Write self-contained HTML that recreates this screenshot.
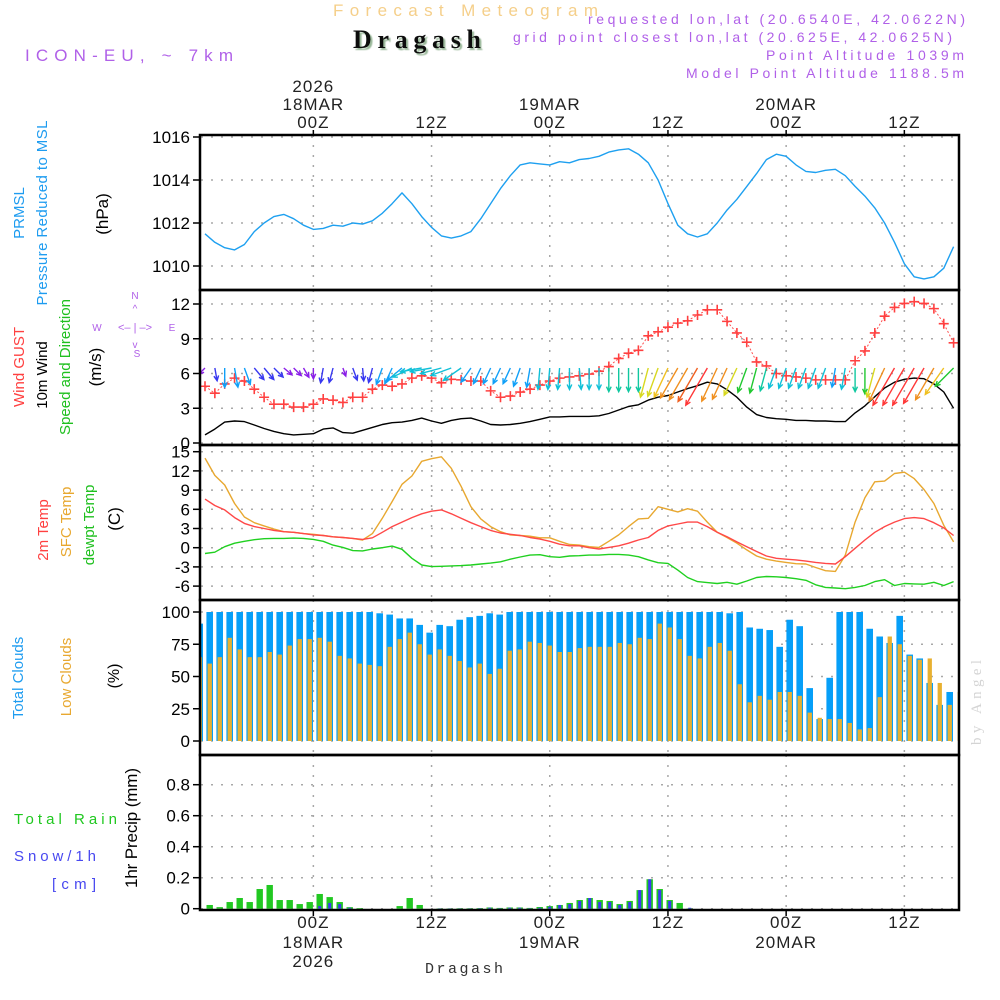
<!DOCTYPE html>
<html><head><meta charset="utf-8"><title>Forecast Meteogram Dragash</title>
<style>
html,body{margin:0;padding:0;background:#fff;}
svg{display:block;font-family:"Liberation Sans",sans-serif;}
</style></head>
<body>
<svg id="chart" width="1000" height="1000" viewBox="0 0 1000 1000" xmlns="http://www.w3.org/2000/svg">
<defs>
<clipPath id="plotClip"><rect x="201" y="135" width="757" height="775"/></clipPath>
<filter id="shadow"><feDropShadow dx="2" dy="2" stdDeviation="0.6" flood-color="#9ab89a"/></filter>
</defs>
<text x="333" y="16" font-size="17" fill="#f5cf8a" textLength="265" lengthAdjust="spacing">Forecast Meteogram</text>
<text x="353" y="48" font-size="26" font-weight="bold" font-family="Liberation Serif,serif" fill="#111" textLength="128" lengthAdjust="spacing" filter="url(#shadow)">Dragash</text>
<text x="25" y="61" font-size="17" fill="#b060e8" textLength="208" lengthAdjust="spacing">ICON-EU, ~ 7km</text>
<text x="588" y="24" font-size="14" fill="#b060e8" textLength="377" lengthAdjust="spacing">requested lon,lat (20.6540E, 42.0622N)</text>
<text x="513" y="42" font-size="14" fill="#b060e8" textLength="439" lengthAdjust="spacing">grid point closest lon,lat (20.625E, 42.0625N)</text>
<text x="766" y="60" font-size="14" fill="#b060e8" textLength="198" lengthAdjust="spacing">Point Altitude 1039m</text>
<text x="686" y="78" font-size="14" fill="#b060e8" textLength="278" lengthAdjust="spacing">Model Point Altitude 1188.5m</text>

<g font-size="15" text-anchor="middle">
<text transform="translate(24,213) rotate(-90)" fill="#1e9cf0">PRMSL</text>
<text transform="translate(47,213) rotate(-90)" fill="#1e9cf0" textLength="185" lengthAdjust="spacing">Pressure Reduced to MSL</text>
<text transform="translate(108,214) rotate(-90)" fill="#000" font-size="17">(hPa)</text>
<text transform="translate(24,367) rotate(-90)" fill="#ff4040">Wind GUST</text>
<text transform="translate(47,375) rotate(-90)" fill="#000">10m Wind</text>
<text transform="translate(70,367) rotate(-90)" fill="#20c020">Speed and Direction</text>
<text transform="translate(101,367) rotate(-90)" fill="#000" font-size="17">(m/s)</text>
<text transform="translate(48,530) rotate(-90)" fill="#ff4040">2m Temp</text>
<text transform="translate(71,522) rotate(-90)" fill="#e8a830">SFC Temp</text>
<text transform="translate(94,525) rotate(-90)" fill="#20c020">dewpt Temp</text>
<text transform="translate(120,519) rotate(-90)" fill="#000" font-size="17">(C)</text>
<text transform="translate(23,678) rotate(-90)" fill="#1e9cf0">Total Clouds</text>
<text transform="translate(71,677) rotate(-90)" fill="#e8a830">Low Clouds</text>
<text transform="translate(119,676) rotate(-90)" fill="#000" font-size="16">(%)</text>
<text transform="translate(137,828) rotate(-90)" fill="#000" font-size="17" textLength="120" lengthAdjust="spacing">1hr Precip (mm)</text>
</g>
<text x="14" y="824" font-size="15" fill="#20c820" textLength="103" lengthAdjust="spacing">Total  Rain</text>
<text x="14" y="861" font-size="15" fill="#4848f0" textLength="82" lengthAdjust="spacing">Snow/1h</text>
<text x="52" y="889" font-size="15" fill="#4848f0" textLength="44" lengthAdjust="spacing">[cm]</text>
<g fill="#b060e8" font-size="10" text-anchor="middle">
<text x="135" y="299">N</text>
<text x="97" y="331">W</text>
<text x="172" y="331">E</text>
<text x="137" y="357">S</text>
<text x="135" y="331" font-size="11">&lt;–  |  –&gt;</text>
<text x="135" y="312" font-size="10">^</text>
<text x="135" y="348" font-size="10">v</text>
</g>
<text transform="translate(981,745) rotate(-90)" font-size="15" font-family="Liberation Serif,serif" fill="#d4d4d4" textLength="85" lengthAdjust="spacing">by Angel</text>
<text x="425" y="973" font-size="15" font-family="Liberation Mono,monospace" fill="#333" textLength="78" lengthAdjust="spacing">Dragash</text>

<g id="grid"></g>
<g id="marks" clip-path="url(#plotClip)"></g>
<g id="frame"></g>
<g id="labels"></g>
</svg>
<script>
const tickK = [11, 23, 35, 47, 59, 71];
const tickHour = ["00Z","12Z","00Z","12Z","00Z","12Z"];
const tickDay = ["18MAR","","19MAR","","20MAR",""];
const tickYear = ["2026","","","","",""];

const pressTicks = [1010,1012,1014,1016];
const windTicks = [0,3,6,9,12];
const tempTicks = [-6,-3,0,3,6,9,12,15];
const cloudTicks = [0,25,50,75,100];
const precipTicks = [0,0.2,0.4,0.6,0.8];

const pressure = [1011.5,1011.1,1010.85,1010.75,1011.0,1011.6,1012.0,1012.3,1012.4,1012.2,1011.9,1011.7,1011.75,1011.9,1011.85,1012.0,1011.95,1012.1,1012.45,1012.9,1013.4,1012.9,1012.3,1011.8,1011.4,1011.3,1011.4,1011.6,1012.2,1012.9,1013.6,1014.2,1014.7,1014.8,1014.75,1014.7,1014.85,1014.8,1014.95,1015.0,1015.1,1015.3,1015.4,1015.45,1015.2,1014.8,1014.0,1012.9,1011.9,1011.5,1011.35,1011.5,1012.0,1012.6,1013.1,1013.7,1014.3,1014.95,1015.2,1015.1,1014.7,1014.4,1014.35,1014.45,1014.5,1014.2,1013.7,1013.25,1012.7,1012.0,1011.1,1010.1,1009.5,1009.4,1009.5,1009.9,1010.9];

const wind10m = [0.7,1.2,1.8,1.9,1.85,1.55,1.25,1.0,0.8,0.7,0.75,0.8,1.2,1.3,0.9,0.85,1.1,1.35,1.6,1.75,1.8,1.95,2.15,1.9,1.7,1.95,2.1,2.15,1.9,1.6,1.55,1.6,1.7,1.85,2.05,2.25,2.25,2.3,2.3,2.3,2.35,2.55,2.85,3.15,3.3,3.7,3.95,4.1,4.4,4.7,4.95,5.25,5.1,4.6,3.95,3.1,2.45,2.2,2.1,2.05,1.95,1.95,1.9,1.9,1.85,1.85,2.6,3.2,4.0,4.75,5.25,5.5,5.6,5.55,5.1,4.4,3.0];

const gust = [4.9,4.3,5.1,5.6,5.35,4.65,3.95,3.35,3.35,3.1,3.1,3.35,3.8,3.7,3.5,3.95,3.95,4.65,5.0,4.9,5.1,5.6,5.8,5.6,5.2,5.5,5.45,5.35,5.35,4.5,3.95,4.05,4.4,4.65,5.0,5.35,5.6,5.7,5.8,5.95,6.2,6.6,7.3,7.75,8.0,9.25,9.6,10.0,10.35,10.55,11.05,11.5,11.5,10.5,9.5,8.7,7.0,6.65,6.0,5.8,5.7,5.6,5.45,5.45,5.45,5.45,7.1,7.95,9.5,10.95,11.7,12.05,12.2,12.05,11.6,10.3,8.65];

const windDir = [45,350,0,350,340,320,320,315,310,315,330,0,10,15,340,340,355,15,20,25,50,65,80,80,75,70,55,35,25,25,25,25,20,10,5,5,5,0,355,0,0,0,0,0,0,15,20,25,30,30,30,30,25,25,25,20,15,15,20,20,20,20,20,20,10,10,0,0,15,25,30,30,30,30,30,35,45];
const windStrength = [2,3,4.5,4.5,4,3.5,3.5,3,2.5,2.5,2.5,2.5,3.5,3.5,2,3,3,3.5,4,4,4.5,5,5,5,5,5,5,4,4,4,4,4,4.5,4.5,5,5,5,5,5,5,5,5.5,5.5,5.5,5.5,7,7,7.5,8,8.5,9,10,8.5,8,7,6,6,5.5,5,5,5,5,5,5,4.5,5,5.5,6,7,8.5,10,10,10,9.5,8.5,7.5,6];

const temp2m = [7.6,6.6,5.9,4.7,3.8,3.3,3.0,2.7,2.5,2.4,2.2,2.0,1.9,1.7,1.6,1.45,1.3,1.55,2.4,3.3,4.0,4.7,5.3,5.7,5.9,5.3,4.6,3.9,3.3,2.7,2.3,2.1,1.9,1.6,1.35,1.0,0.55,0.3,
 0.3,0,-0.2,0.05,0.3,0.7,1.2,1.6,2.7,3.4,3.7,4.0,4.0,3.3,2.4,1.7,0.9,0.15,-0.6,-1.3,-1.65,-1.8,-1.9,-2.1,-2.3,-2.45,-2.55,-1.4,-0.1,1.2,2.4,3.3,4.0,4.55,4.7,4.55,3.9,3.1,1.9];
const tempSfc = [14.0,11.3,9.8,6.9,4.8,3.9,3.4,2.9,2.5,2.4,2.2,2.1,1.9,1.7,1.6,1.45,1.2,2.2,4.6,7.2,9.9,11.2,13.5,13.9,14.2,12.4,9.6,6.4,4.5,3.3,2.5,2.0,1.9,1.8,1.55,1.55,1.0,0.5,
 0.4,0.15,0.05,1.0,2.0,3.3,4.5,4.6,6.4,6.0,5.6,6.1,5.7,4.0,2.4,1.6,0.7,-0.35,-1.3,-1.8,-2.1,-2.3,-2.5,-2.55,-3.1,-3.6,-3.7,-1.15,4.0,7.8,10.3,10.4,11.6,11.8,10.8,9.1,6.9,3.5,0.9];
const dewpt = [-0.9,-0.7,0.15,0.7,1.0,1.25,1.4,1.45,1.45,1.5,1.45,1.3,1.0,0.4,0.05,-0.45,-0.5,-0.2,0,0.25,-0.25,-1.65,-2.7,-2.95,-2.9,-2.85,-2.8,-2.7,-2.55,-2.4,-2.2,-1.8,-1.45,-1.15,-1.1,-1.4,-1.5,-1.3,
 -1.25,-1.15,-1.15,-1.05,-1.05,-1.15,-1.4,-1.9,-2.35,-2.45,-3.5,-4.65,-5.3,-5.45,-5.6,-5.4,-5.7,-5.2,-4.65,-4.5,-4.55,-4.65,-4.85,-5.1,-5.8,-6.2,-6.3,-6.4,-6.2,-5.9,-5.3,-5.0,-5.9,-5.6,-5.65,-5.7,-5.4,-5.9,-5.3];

const cloudStartK = -1;
const cloudTotal = [91,100,100,100,100,100,100,100,100,100,100,100,100,100,100,100,100,100,99,98,95,95,90,84,90,89,94,96,97,99,98,100,100,100,100,100,100,100,100,
 100,100,100,100,100,100,100,100,100,100,100,100,100,100,99,100,88,87,86,73,94,89,41,17,49,100,100,100,87,81,76,97,67,64,45,28,38];
const cloudLow = [65,60,65,80,71,65,65,69,67,74,79,79,80,77,66,64,60,59,58,73,79,84,75,67,71,66,62,57,60,52,56,70,71,77,76,74,69,69,72,
 73,73,73,76,75,80,79,91,88,79,66,64,73,76,70,44,30,35,32,38,38,35,22,18,17,17,14,9,10,34,81,75,66,63,64,45,28,38];

const rain = [0.024,0.01,0.043,0.069,0.043,0.127,0.153,0.056,0.056,0.03,0.043,0.095,0.075,0.043,0.01,0.004,0,0,0,0.017,0.069,0.024,0,0.002,0.002,0.003,0.003,0.004,0.008,0.005,0.008,0.008,0.005,0.011,0.017,0.024,0.037,0.056,0.069,0.056,0.05,0.03,0.05,0.12,0.19,0.127,0.056,0.037,0.002,0,0,0,0,0,0,0,0,0,0,0,0,0,0,0,0,0,0,0,0,0,0,0,0,0,0,0];
const snow = [0,0,0,0,0,0,0,0,0,0,0,0.017,0.037,0.03,0.006,0,0,0,0,0,0,0,0,0.002,0.002,0.002,0.002,0.003,0.006,0.003,0.006,0.006,0.003,0.006,0.013,0.024,0.03,0.05,0.069,0.043,0.043,0.024,0.043,0.12,0.19,0.12,0.05,0,0.006,0,0,0,0,0,0,0,0,0,0,0,0,0,0,0,0,0,0,0,0,0,0,0,0,0,0,0];

// ---- scales ----
const X0 = 201, X1 = 958;
function xScale(k){ return 205 + 9.85*k; }      // line samples
function barScale(k){ return 209.7 + 10*k; }    // bar centers
function linY(v, v0, y0, v1, y1){ return y0 + (v - v0) * (y1 - y0) / (v1 - v0); }
const yP = v => linY(v, 1010, 266, 1016, 137);
const yW = v => linY(v, 0, 443, 12, 304);
const yT = v => linY(v, 0, 547.7, 15, 451.7);
const yC = v => linY(v, 0, 741, 100, 612);
const yR = v => linY(v, 0, 908.7, 0.8, 784.7);
const panels = [[135,290],[290,445],[445,600],[600,755],[755,910]];

const NS = "http://www.w3.org/2000/svg";
function mk(tag, attrs, parent){
  const e = document.createElementNS(NS, tag);
  for (const a in attrs) e.setAttribute(a, attrs[a]);
  parent.appendChild(e); return e;
}
const grid = document.getElementById('grid');
const marks = document.getElementById('marks');
const frame = document.getElementById('frame');
const labels = document.getElementById('labels');

function hGrid(vals, ys, name){
  vals.forEach(v=>{
    const y = ys(v);
    const l = mk('line',{x1:X0,x2:X1,y1:y,y2:y,stroke:'#a8a8a8','stroke-width':1.5,'stroke-dasharray':'2,8'},grid);
    
    
    const t = mk('line',{x1:193,x2:200,y1:y,y2:y,stroke:'#000','stroke-width':1.5},grid);
    
    
    const lab = mk('text',{x:190,y:y+6,'font-size':17,'text-anchor':'end',fill:'#000'},labels);
    
    
    lab.textContent = String(v);
  });
}
hGrid(pressTicks, yP, 'pressure');
hGrid(windTicks, yW, 'wind');
hGrid(tempTicks, yT, 'temp');
hGrid(cloudTicks, yC, 'cloud');
hGrid(precipTicks, yR, 'precip');

tickK.forEach((k,i)=>{
  const x = xScale(k);
  panels.forEach(p=>{
    const l = mk('line',{x1:x,x2:x,y1:p[0],y2:p[1],stroke:'#a8a8a8','stroke-width':1.5,'stroke-dasharray':'2,8'},grid);
    
    
  });
  const t1 = mk('line',{x1:x,x2:x,y1:130,y2:135,stroke:'#000','stroke-width':1.5},grid);
  
  
  const t2 = mk('line',{x1:x,x2:x,y1:910,y2:916,stroke:'#000','stroke-width':1.5},grid);
  
  
  const lines = [[tickYear[i],92,967],[tickDay[i],110,948],[tickHour[i],128,928]];
  lines.forEach(([txt,yt,yb])=>{
    if(!txt) return;
    const a = mk('text',{x:x,y:yt,'font-size':17,'text-anchor':'middle',fill:'#222','letter-spacing':1},labels);
    
    
    a.textContent = txt;
    const b = mk('text',{x:x,y:yb,'font-size':17,'text-anchor':'middle',fill:'#222','letter-spacing':1},labels);
    
    
    b.textContent = txt;
  });
});

panels.forEach((p,i)=>{
  const r = mk('rect',{x:200,y:p[0],width:759,height:p[1]-p[0],fill:'none',stroke:'#000','stroke-width':2.5},frame);
  
  
});

function polyline(vals, ys, color, name, width){
  const pts = vals.map((v,k)=> xScale(k).toFixed(1)+','+ys(v).toFixed(1)).join(' ');
  const pl = mk('polyline',{points:pts,fill:'none',stroke:color,'stroke-width':width||1.3,'stroke-linejoin':'round'},marks);
  
  
  return pl;
}

cloudTotal.forEach((v,i)=>{
  const cx = barScale(cloudStartK + i);
  const r = mk('rect',{x:cx-3.3,y:yC(v),width:6.6,height:yC(0)-yC(v),fill:'#069ff8'},marks);
  
  
});
cloudLow.forEach((v,i)=>{
  const cx = barScale(cloudStartK + i);
  const r = mk('rect',{x:cx-2.1,y:yC(v),width:4.3,height:yC(0)-yC(v),fill:'#e8b030'},marks);
  
  
});

rain.forEach((v,k)=>{
  if(v<=0) return;
  const cx = barScale(k);
  const r = mk('rect',{x:cx-3.2,y:yR(v),width:6.4,height:yR(0)-yR(v),fill:'#22c822'},marks);
  
  
});
snow.forEach((v,k)=>{
  if(v<=0) return;
  const cx = barScale(k);
  const r = mk('rect',{x:cx-1.5,y:yR(v),width:3,height:yR(0)-yR(v),fill:'#3a3af0'},marks);
  
  
});

polyline(pressure, yP, '#1ea0f0', 'pressure-line', 1.4);
polyline(wind10m, yW, '#000', 'wind-speed-line', 1.4);
const gl = polyline(gust, yW, '#ff5050', 'gust-line', 1);
gl.setAttribute('stroke-dasharray','2,2');
gust.forEach((v,k)=>{
  const x = xScale(k), y = yW(v);
  const p = mk('path',{d:`M${x-5},${y}H${x+5}M${x},${y-5}V${y+5}`,stroke:'#ff4040','stroke-width':1.6,fill:'none'},marks);
  
  
});

function arrowColor(s){
  if(s<=2.5) return '#8a1ee8';
  if(s<=3.5) return '#3838f0';
  if(s<=4.5) return '#10a0f8';
  if(s<=5) return '#10c0d8';
  if(s<=5.5) return '#10c8a0';
  if(s<=6) return '#20c830';
  if(s<=7) return '#d8d820';
  if(s<=7.5) return '#f0c020';
  if(s<=8.5) return '#f09020';
  if(s<=9) return '#f06020';
  return '#ff3838';
}
windDir.forEach((d,k)=>{
  const s = windStrength[k];
  const L = 4.3*s;
  const rad = d*Math.PI/180;
  const ux = -Math.sin(rad), uy = Math.cos(rad);
  const x0 = xScale(k), y0 = 368;
  const x1 = x0 + ux*L, y1 = y0 + uy*L;
  const ang = Math.atan2(uy,ux);
  const h = 5.5;
  const a1 = ang + Math.PI - 0.45, a2 = ang + Math.PI + 0.45;
  const dpath = `M${x0},${y0}L${x1.toFixed(1)},${y1.toFixed(1)}M${(x1+h*Math.cos(a1)).toFixed(1)},${(y1+h*Math.sin(a1)).toFixed(1)}L${x1.toFixed(1)},${y1.toFixed(1)}L${(x1+h*Math.cos(a2)).toFixed(1)},${(y1+h*Math.sin(a2)).toFixed(1)}`;
  const p = mk('path',{d:dpath,stroke:arrowColor(s),'stroke-width':1.4,fill:'none'},marks);
  
  
});

polyline(tempSfc, yT, '#e8a830', 'sfc-temp-line', 1.4);
polyline(temp2m, yT, '#ff4848', 'temp-2m-line', 1.4);
polyline(dewpt, yT, '#20d020', 'dewpoint-line', 1.4);
</script>
</body></html>
